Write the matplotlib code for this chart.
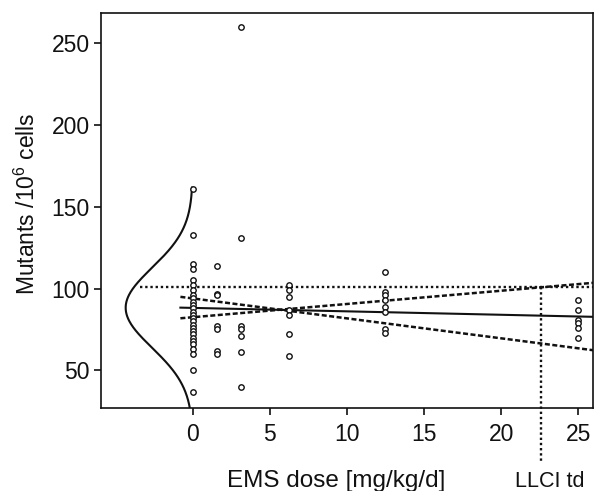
import numpy as np
import matplotlib
matplotlib.use("Agg")
import matplotlib.pyplot as plt

plt.rcParams['font.family'] = ['Liberation Sans', 'DejaVu Sans']
plt.rcParams['mathtext.fontset'] = 'custom'
plt.rcParams['mathtext.rm'] = 'Liberation Sans'
plt.rcParams['mathtext.it'] = 'Liberation Sans:italic'

# EMS dose groups [mg/kg/d] and mutant frequencies per animal
dose_levels = [0, 1.5625, 3.125, 6.25, 12.5, 25]
mutants_0 = [161, 133, 115, 112, 105, 102, 99, 96, 94, 92, 90, 88, 86, 84,
             82, 80, 78, 76, 74, 72, 70, 68, 66, 63, 60, 50, 37]
mutants_1 = [114, 97, 96, 77, 75, 62, 60]
mutants_3 = [260, 131, 77, 75, 71, 61, 40]
mutants_6 = [102, 99, 95, 87, 84, 72, 59]
mutants_12 = [110, 98, 96, 93, 89, 86, 75, 73]
mutants_25 = [93, 87, 81, 79, 76, 70]
group_values = [mutants_0, mutants_1, mutants_3, mutants_6, mutants_12, mutants_25]

# Fitted dose-response line and its confidence limits (intercept, slope)
fit_line = (88.2, -0.21)
upper_limit = (82.5, 0.81)
lower_limit = (94.0, -1.22)

# Control distribution and threshold quantities
control_mean = 88.3
control_sd = 24.5
threshold = 101.0
llci_td = 22.6

xticks = [0, 5, 10, 15, 20, 25]
yticks = [50, 100, 150, 200, 250]

fig = plt.figure(figsize=(5.95, 4.91), dpi=100)
ax = fig.add_axes([101 / 595, 1 - 408 / 491, 492 / 595, 395 / 491])
ax.set_xlim(-5.95, 25.96)
ax.set_ylim(26.97, 268.6)

# scatter of individual animals
for d, vals in zip(dose_levels, group_values):
    ax.plot([d] * len(vals), vals, linestyle='none', marker='o',
            markersize=3.9, markerfacecolor='white', markeredgecolor='#111111',
            markeredgewidth=1.0, zorder=3)

# normal density of the control group, drawn sideways at dose 0
yy = np.linspace(control_mean - 3 * control_sd, control_mean + 3 * control_sd, 400)
dens = np.exp(-0.5 * ((yy - control_mean) / control_sd) ** 2)
ax.plot(-4.35 * dens, yy, color='#111111', lw=1.5, zorder=2)

# regression and confidence limits
xs = np.array([-0.8, 26.5])
ax.plot(xs, fit_line[0] + fit_line[1] * xs, color='#111111', lw=1.5, zorder=2)
ax.plot(xs, upper_limit[0] + upper_limit[1] * xs, color='#111111', lw=1.8,
        linestyle=(0, (2.0, 1.0)), zorder=2)
ax.plot(xs, lower_limit[0] + lower_limit[1] * xs, color='#111111', lw=1.8,
        linestyle=(0, (2.0, 1.0)), zorder=2)

# threshold level and lower-limit threshold dose
ax.plot([-3.4, 26.5], [threshold, threshold], color='#111111', lw=1.7,
        linestyle=(0, (1.0, 1.2)), zorder=2)
ax.plot([llci_td, llci_td], [threshold, -5.9], color='#111111', lw=1.7,
        linestyle=(0, (1.0, 1.2)), clip_on=False, zorder=2)

ax.set_xticks(xticks)
ax.set_yticks(yticks)
ax.set_xticklabels([str(t) for t in xticks])
ax.set_yticklabels([str(t) for t in yticks])
ax.tick_params(axis='both', length=5, width=1.2, color='#111111',
               labelsize=16.5, labelcolor='#111111')
ax.tick_params(axis='x', pad=5.5)
ax.tick_params(axis='y', pad=3)
for s in ax.spines.values():
    s.set_linewidth(1.2)
    s.set_color('#111111')

fig.text(336.5 / 595, 1 - 487 / 491, 'EMS dose [mg/kg/d]', ha='center',
         va='baseline', fontsize=17.5, color='#111111')
fig.text(550 / 595, 1 - 487 / 491, 'LLCI td', ha='center', va='baseline',
         fontsize=15.5, color='#111111')
fig.text(27 / 595, 1 - 204 / 491, 'Mutants /10$^{6}$ cells', ha='center',
         va='center', rotation=90, fontsize=16.5, color='#111111')

fig.savefig('out.png', dpi=100)
